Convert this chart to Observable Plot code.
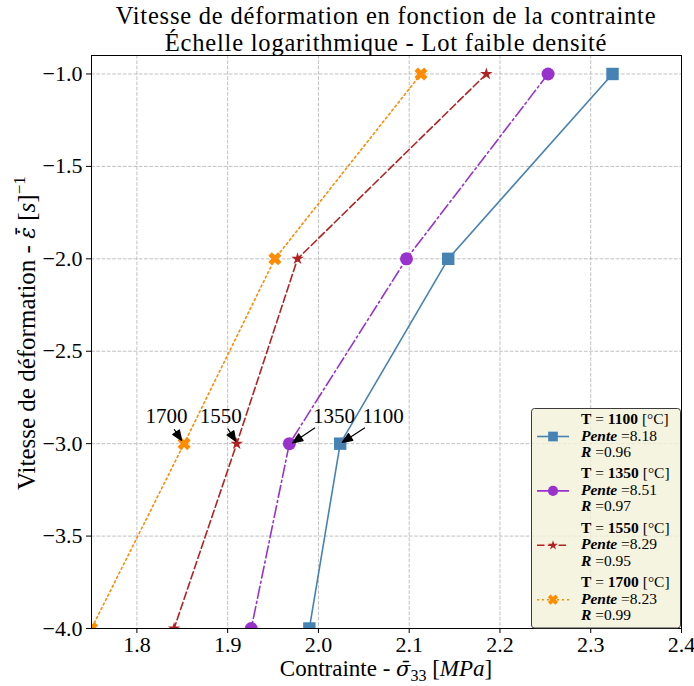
<!DOCTYPE html>
<html>
<head>
<meta charset="utf-8">
<script src="https://cdn.jsdelivr.net/npm/d3@7"></script>
<script src="https://cdn.jsdelivr.net/npm/@observablehq/plot@0.6"></script>
<style>
  body { margin: 0; background: #fff; }
  #chart svg { display: block; }
</style>
</head>
<body>
<div id="chart"></div>
<script>
// Strain rate (log scale) against stress, low density batch
const temperatures = [1100, 1350, 1550, 1700];
const strainRates = [-1, -2, -3, -4];
const stress1100 = [2.324, 2.143, 2.024, 1.990];
const stress1350 = [2.253, 2.097, 1.968, 1.926];
const stress1550 = [2.185, 1.977, 1.910, 1.841];
const stress1700 = [2.113, 1.952, 1.852, 1.750];
const slopes = [8.18, 8.51, 8.29, 8.23];
const rValues = [0.96, 0.97, 0.95, 0.99];
const xTicks = [1.8, 1.9, 2.0, 2.1, 2.2, 2.3, 2.4];
const yTicks = [-4, -3.5, -3, -2.5, -2, -1.5, -1];
const annotatedRate = -3;

const FONT = "'Liberation Serif', 'DejaVu Serif', serif";
const MATH_FONT = "'DejaVu Serif', serif";

// filled "X" marker
const symbolX = {
  draw(context, size) {
    const s = Math.sqrt(size / Math.PI);
    const t = 0.36, c = Math.SQRT1_2;
    const pts = [[-t,-1],[t,-1],[t,-t],[1,-t],[1,t],[t,t],[t,1],[-t,1],[-t,t],[-1,t],[-1,-t],[-t,-t]];
    pts.forEach(([x, y], i) => {
      const X = (x - y) * c * s, Y = (x + y) * c * s;
      if (i) context.lineTo(X, Y); else context.moveTo(X, Y);
    });
    context.closePath();
  }
};

// annotation arrow: shaft plus filled head at the far end
const arrowShape = {
  draw(context, l) {
    const head = 10, half = 4;
    context.moveTo(0, 0);
    context.lineTo(0, -l + head);
    context.moveTo(0, -l);
    context.lineTo(half, -l + head);
    context.lineTo(-half, -l + head);
    context.closePath();
  }
};

const stresses = [stress1100, stress1350, stress1550, stress1700];
const seriesStyle = [
  {color: "steelblue",  symbol: "square", d3symbol: d3.symbolSquare, r: 7,   dash: null},
  {color: "darkorchid", symbol: "circle", d3symbol: d3.symbolCircle, r: 6.5, dash: "12,3.3,2,3.3"},
  {color: "firebrick",  symbol: "star",   d3symbol: d3.symbolStar,   r: 3.9, dash: "7.5,3.3"},
  {color: "darkorange", symbol: symbolX,  d3symbol: symbolX,         r: 6.8, dash: "2,3"}
];
// label placement around the annotated points (pixels)
const annotationStyle = [
  {textDx: 43,    tailDx: 24.3, tailDy: -15.7, length: 26.5, rotate: 237},
  {textDx: 44.5,  tailDx: 25.3, tailDy: -15.7, length: 26.6, rotate: 236},
  {textDx: -16,   tailDx: -8.7, tailDy: -14.7, length: 14.6, rotate: 148},
  {textDx: -17.5, tailDx: -9.7, tailDy: -14,   length: 13,   rotate: 146}
];

const series = temperatures.map((T, i) => ({
  T,
  ...seriesStyle[i],
  points: stresses[i].map((x, j) => ({T, x, y: strainRates[j]}))
}));

const gridStyle = {stroke: "#b0b0b0", strokeOpacity: 1, strokeWidth: 0.8, strokeDasharray: "3.7,1.6"};
const minus = (d) => (d < 0 ? "\u2212" : "") + Math.abs(d).toFixed(1);

const marks = [
  Plot.gridX(xTicks, gridStyle),
  Plot.gridY(yTicks, gridStyle),
  Plot.axisX(xTicks, {tickFormat: (d) => d.toFixed(1), tickSize: 5, tickPadding: 3, fontSize: 22, label: null}),
  Plot.axisY(yTicks, {tickFormat: minus, tickSize: 5, tickPadding: 4, fontSize: 22, label: null})
];

for (const s of series) {
  marks.push(Plot.line(s.points, {
    x: "x", y: "y", stroke: s.color, strokeWidth: 1.6,
    strokeDasharray: s.dash ?? undefined, clip: true
  }));
}
for (const s of series) {
  marks.push(Plot.dot(s.points, {
    x: "x", y: "y", symbol: () => s.symbol, r: s.r, fill: s.color, stroke: "none", clip: true
  }));
}
series.forEach((s, i) => {
  const a = annotationStyle[i];
  const target = s.points.filter((p) => p.y === annotatedRate);
  marks.push(Plot.text(target, {
    x: "x", y: "y", text: (d) => String(d.T), dx: a.textDx, dy: -21,
    textAnchor: "middle", lineAnchor: "bottom", fontSize: 21, fill: "black"
  }));
  marks.push(Plot.vector(target, {
    x: "x", y: "y", anchor: "start", dx: a.tailDx, dy: a.tailDy,
    length: a.length, rotate: a.rotate, shape: arrowShape,
    stroke: "black", fill: "black", strokeWidth: 1.2
  }));
});
marks.push(Plot.frame({stroke: "black", strokeWidth: 1}));

const chart = Plot.plot({
  width: 694,
  height: 686,
  marginLeft: 91,
  marginRight: 13,
  marginTop: 55,
  marginBottom: 58,
  x: {domain: [1.75, 2.4]},
  y: {domain: [-4, -0.9]},
  style: {fontFamily: FONT, fontSize: "21px", color: "black", background: "white", overflow: "visible"},
  marks
});

const svg = d3.select(chart);
const cx = (91 + 694 - 13) / 2;

// title
const title = svg.append("g").attr("font-family", FONT).attr("font-size", 24.5)
  .attr("letter-spacing", 0.8).attr("text-anchor", "middle").attr("fill", "black");
title.append("text").attr("x", cx).attr("y", 23.5).text("Vitesse de déformation en fonction de la contrainte");
title.append("text").attr("x", cx).attr("y", 51).text("Échelle logarithmique - Lot faible densité");

// axis labels
const xl = svg.append("text").attr("font-family", FONT).attr("font-size", 23)
  .attr("text-anchor", "middle").attr("x", cx).attr("y", 676).attr("fill", "black");
xl.append("tspan").text("Contrainte - ");
xl.append("tspan").attr("font-family", MATH_FONT).attr("font-style", "italic").attr("font-size", 21).text("σ\u0304");
xl.append("tspan").attr("font-size", 16).attr("dy", 5).text("33");
xl.append("tspan").attr("dy", -5).text(" [");
xl.append("tspan").attr("font-style", "italic").text("MPa");
xl.append("tspan").text("]");

const yl = svg.append("text").attr("font-family", FONT).attr("font-size", 25)
  .attr("text-anchor", "start").attr("transform", "translate(35,490) rotate(-90)").attr("fill", "black");
yl.append("tspan").text("Vitesse de déformation - ");
yl.append("tspan").attr("font-family", MATH_FONT).attr("font-style", "italic").attr("font-size", 22).text("ε\u0307\u0304");
yl.append("tspan").text(" [");
yl.append("tspan").attr("font-style", "italic").text("s");
yl.append("tspan").text("]");
yl.append("tspan").attr("font-size", 17).attr("dy", -10).text("\u22121");

// legend
const lg = svg.append("g").attr("font-family", FONT).attr("font-size", 15.5)
  .attr("text-anchor", "start").attr("fill", "black");
lg.append("rect").attr("x", 531.5).attr("y", 408.5).attr("width", 149).attr("height", 219.5)
  .attr("rx", 3).attr("fill", "#f3f1da").attr("fill-opacity", 0.8).attr("stroke", "#3a3a3a").attr("stroke-width", 1);
series.forEach((s, i) => {
  const top = 424 + 54.4 * i;
  const my = top + 12.5;
  lg.append("line").attr("x1", 537).attr("x2", 569).attr("y1", my).attr("y2", my)
    .attr("stroke", s.color).attr("stroke-width", 1.6).attr("stroke-dasharray", s.dash);
  lg.append("path").attr("transform", `translate(553,${my})`)
    .attr("d", d3.symbol(s.d3symbol, Math.PI * (s.r * 0.78) ** 2)()).attr("fill", s.color);
  const t1 = lg.append("text").attr("x", 581).attr("y", top);
  t1.append("tspan").attr("font-weight", "bold").text("T");
  t1.append("tspan").text(" = ");
  t1.append("tspan").attr("font-weight", "bold").text(String(s.T));
  t1.append("tspan").text(" [°C]");
  const t2 = lg.append("text").attr("x", 581).attr("y", top + 16.5);
  t2.append("tspan").attr("font-weight", "bold").attr("font-style", "italic").text("Pente");
  t2.append("tspan").text(" =" + slopes[i].toFixed(2));
  const t3 = lg.append("text").attr("x", 581).attr("y", top + 33);
  t3.append("tspan").attr("font-weight", "bold").attr("font-style", "italic").text("R");
  t3.append("tspan").text(" =" + rValues[i].toFixed(2));
});

document.getElementById("chart").append(chart);
</script>
</body>
</html>
